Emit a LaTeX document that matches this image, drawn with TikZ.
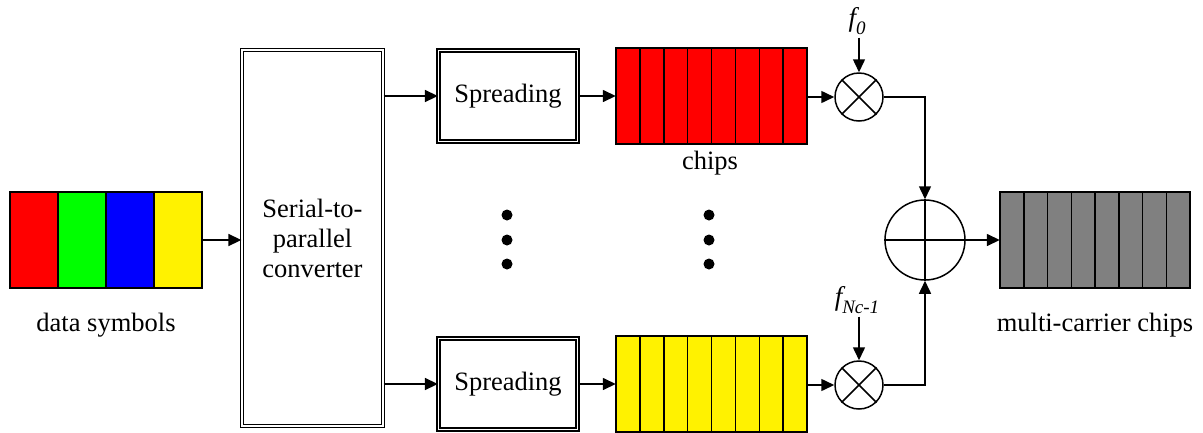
\documentclass[tikz,border=0pt]{standalone}
\usepackage{fontspec}
\setmainfont{Liberation Serif}
\usetikzlibrary{arrows.meta}

\newcommand{\freqsub}[1]{\raisebox{-0.28em}{\fontsize{19}{20}\selectfont #1}}

\tikzset{
	conn/.style = {line width=1.5pt, -{Triangle[length=13pt, width=12pt]}},
	dblbox/.style = {draw, double, line width=1.3pt, double distance=1.5pt, inner sep=0pt},
	chip/.style = {draw, line width=1.5pt},
	mixer/.style = {draw, circle, line width=1.5pt, minimum size=48pt, inner sep=0pt},
	block/.style = {minimum width=#1, minimum height=96pt, inner sep=0pt},
	freq/.style = {inner sep=3pt, font=\fontsize{27}{30}\selectfont\itshape}
}

\begin{document}
\begin{tikzpicture}[x=1pt, y=-1pt, font=\fontsize{26.5}{30}\selectfont]
\useasboundingbox (0,0) rectangle (1203,432);

% data symbols
\foreach \c [count=\i from 0] in {red, green, blue, yellow} {
	\draw[chip, fill=\c] (10+48*\i,192) rectangle ++(48,96);
}
\node[block=192pt] (data) at (106,240) {};
\node (datalbl) at (106,325) {data symbols};

% serial-to-parallel and spreading
\node[dblbox, minimum width=141pt, minimum height=376pt, align=center] (sp) at (312.5,238) {Serial-to-\\parallel\\converter};
\node[dblbox, minimum width=139pt, minimum height=91pt] (spr1) at (508,96) {Spreading};
\node[dblbox, minimum width=139pt, minimum height=91pt] (spr2) at (508,384) {Spreading};

% chips
\foreach \y/\c/\n in {48/red/chips1, 336/yellow/chips2} {
	\foreach \i in {0,...,7} \draw[chip, fill=\c] (616+23.875*\i,\y) rectangle ++(23.875,96);
	\node[block=191pt] (\n) at (711.5,\y+48) {};
}
\node (chipslbl) at (710,163) {chips};

\foreach \x in {507, 709} {
	\foreach \y in {215, 240, 264} \fill (\x,\y) circle (5.5);
}

% mixers and sum
\node[mixer] (m1) at (859,97) {};
\node[mixer] (m2) at (859,385) {};
\foreach \m in {m1, m2} {
	\draw[line width=1.5pt] (\m.north west) -- (\m.south east) (\m.north east) -- (\m.south west);
}
\node[mixer, minimum size=80pt] (sum) at (925,240) {};
\draw[line width=1.5pt] (sum.north) -- (sum.south) (sum.west) -- (sum.east);

\node[freq] (f0) at (857,21) {f\freqsub{0}};
\node[freq] (fn) at (857,300) {f\freqsub{Nc-1}};

% multi-carrier chips
\foreach \i in {0,...,7} \draw[chip, fill=gray] (1000+23.75*\i,192) rectangle ++(23.75,96);
\node[block=190pt] (out) at (1095,240) {};
\node (outlbl) at (1095,325) {multi-carrier chips};

% connectors
\draw[conn] (data) -- (sp.west |- data);
\draw[conn] (sp.east |- spr1) -- (spr1);
\draw[conn] (sp.east |- spr2) -- (spr2);
\draw[conn] (spr1) -- (chips1);
\draw[conn] (spr2) -- (chips2);
\draw[conn] (chips1.east |- m1) -- (m1);
\draw[conn] (chips2.east |- m2) -- (m2);
\draw[conn] (f0.south -| m1) -- (m1);
\draw[conn] (fn.south -| m2) -- (m2);
\draw[conn] (m1) -| (sum);
\draw[conn] (m2) -| (sum);
\draw[conn] (sum) -- (out);
\end{tikzpicture}
\end{document}
